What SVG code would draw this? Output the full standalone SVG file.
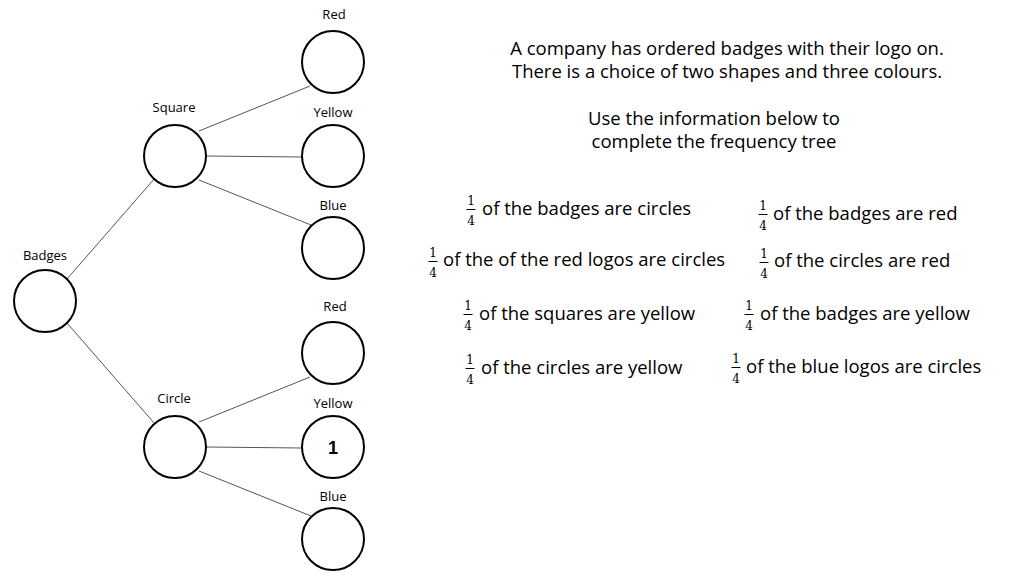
<svg xmlns="http://www.w3.org/2000/svg" width="1024" height="576" viewBox="0 0 1024 576">
<style>
.node{fill:#fff;stroke:#000;stroke-width:2}
.lbl{font-family:"Open Sans","DejaVu Sans",sans-serif;font-size:13px;fill:#000;text-anchor:middle}
.edge{stroke:#555;stroke-width:1;fill:none}
.t{font-family:"Open Sans","DejaVu Sans",sans-serif;font-size:18.5px;fill:#000}
.tc{text-anchor:middle}
.fr{font-family:"DejaVu Serif","Liberation Serif",serif;font-size:12px;fill:#000;text-anchor:middle}
.bar{stroke:#000;stroke-width:1}
</style>
<rect width="1024" height="576" fill="#fff"/>
<g id="connectors">
<line class="edge" x1="67" y1="279" x2="155" y2="178"/>
<line class="edge" x1="67" y1="323" x2="155" y2="424"/>
<line class="edge" x1="199" y1="131" x2="310" y2="86"/>
<line class="edge" x1="206" y1="156" x2="302" y2="157"/>
<line class="edge" x1="199" y1="180" x2="311" y2="225"/>
<line class="edge" x1="199" y1="422" x2="310" y2="377"/>
<line class="edge" x1="206" y1="447" x2="302" y2="448"/>
<line class="edge" x1="199" y1="471" x2="311" y2="516"/>
</g>
<g id="badges"><circle class="node" cx="45" cy="301" r="31"/><text class="lbl" x="45" y="260">Badges</text></g>
<g id="square"><circle class="node" cx="175" cy="156" r="31"/><text class="lbl" x="174" y="112">Square</text></g>
<g id="circle"><circle class="node" cx="175" cy="447" r="31"/><text class="lbl" x="174" y="403">Circle</text></g>
<g id="square-red"><circle class="node" cx="333" cy="62" r="31"/><text class="lbl" x="334" y="19">Red</text></g>
<g id="square-yellow"><circle class="node" cx="333" cy="156" r="31"/><text class="lbl" x="333" y="117">Yellow</text></g>
<g id="square-blue"><circle class="node" cx="333" cy="248" r="31"/><text class="lbl" x="333" y="210">Blue</text></g>
<g id="circle-red"><circle class="node" cx="333" cy="353" r="31"/><text class="lbl" x="335" y="311">Red</text></g>
<g id="circle-yellow"><circle class="node" cx="333" cy="447" r="31"/><text class="lbl" x="333" y="408">Yellow</text><text x="333" y="454" text-anchor="middle" font-family="Liberation Sans,Arial,sans-serif" font-size="18" font-weight="bold">1</text></g>
<g id="circle-blue"><circle class="node" cx="333" cy="539" r="31"/><text class="lbl" x="333" y="501">Blue</text></g>
<g id="intro">
<text class="t tc" x="727" y="55">A company has ordered badges with their logo on.</text>
<text class="t tc" x="727" y="78">There is a choice of two shapes and three colours.</text>
<text class="t tc" x="714" y="125">Use the information below to</text>
<text class="t tc" x="714" y="148">complete the frequency tree</text>
</g>
<g id="facts">
<text class="fr" x="471" y="205">1</text><line class="bar" x1="466.5" y1="209.5" x2="475.5" y2="209.5"/><text class="fr" x="471" y="225">4</text>
<text class="t" x="482" y="215">of the badges are circles</text>
<text class="fr" x="763" y="210">1</text><line class="bar" x1="758.5" y1="214.5" x2="767.5" y2="214.5"/><text class="fr" x="763" y="230">4</text>
<text class="t" x="773" y="220">of the badges are red</text>
<text class="fr" x="433" y="257">1</text><line class="bar" x1="428.5" y1="261.5" x2="437.5" y2="261.5"/><text class="fr" x="433" y="277">4</text>
<text class="t" x="443" y="266">of the of the red logos are circles</text>
<text class="fr" x="764" y="258">1</text><line class="bar" x1="759.5" y1="262.5" x2="768.5" y2="262.5"/><text class="fr" x="764" y="278">4</text>
<text class="t" x="774" y="267">of the circles are red</text>
<text class="fr" x="468" y="310">1</text><line class="bar" x1="463.5" y1="314.5" x2="472.5" y2="314.5"/><text class="fr" x="468" y="330">4</text>
<text class="t" x="479" y="320">of the squares are yellow</text>
<text class="fr" x="749" y="310">1</text><line class="bar" x1="744.5" y1="314.5" x2="753.5" y2="314.5"/><text class="fr" x="749" y="330">4</text>
<text class="t" x="760" y="320">of the badges are yellow</text>
<text class="fr" x="470" y="364">1</text><line class="bar" x1="465.5" y1="368.5" x2="474.5" y2="368.5"/><text class="fr" x="470" y="384">4</text>
<text class="t" x="481" y="374">of the circles are yellow</text>
<text class="fr" x="736" y="363">1</text><line class="bar" x1="731.5" y1="367.5" x2="740.5" y2="367.5"/><text class="fr" x="736" y="383">4</text>
<text class="t" x="746" y="373">of the blue logos are circles</text>
</g>
</svg>
